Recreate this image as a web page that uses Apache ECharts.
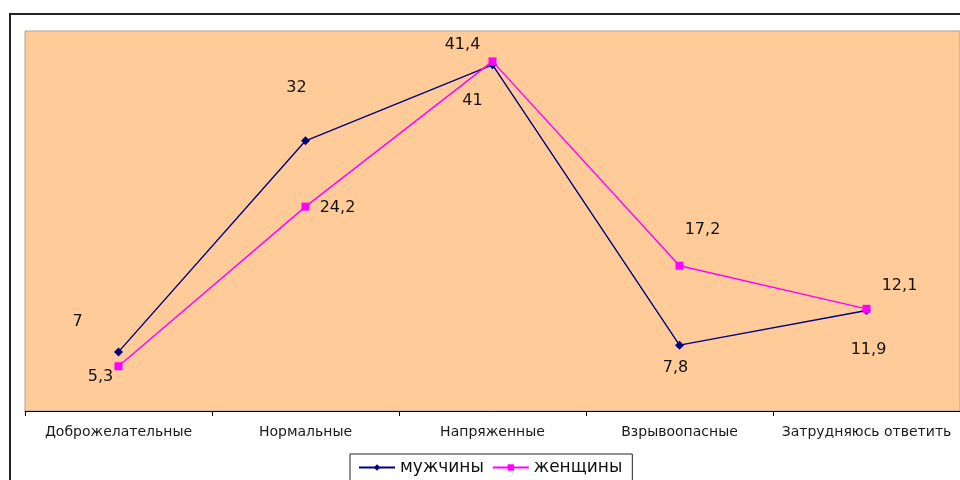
<!DOCTYPE html>
<html>
<head>
<meta charset="utf-8">
<script src="https://cdn.jsdelivr.net/npm/echarts@6.0.0/dist/echarts.min.js"></script>
<style>
  html, body { margin: 0; padding: 0; background: #fff; }
  #chart { width: 960px; height: 480px; }
</style>
</head>
<body>
<div id="chart"></div>
<script>
// data
const categories = ['Доброжелательные', 'Нормальные', 'Напряженные', 'Взрывоопасные', 'Затрудняюсь ответить'];
const menValues = [7, 32, 41, 7.8, 11.9];
const womenValues = [5.3, 24.2, 41.4, 17.2, 12.1];

// label offsets (layout only), px from the marker
const menLabelOffset = [[-41, -30], [-9, -53], [-20, 36], [-4, 23], [2, 39]];
const womenLabelOffset = [[-18, 11], [32, 1], [-30, -17], [23, -36], [33, -23]];

const font = '"DejaVu Sans", "Liberation Sans", Arial, sans-serif';

const fmt = (v) => String(v).replace('.', ',');

const withLabels = (values, offsets) =>
  values.map((v, i) => ({
    value: v,
    label: { offset: offsets[i] },
  }));

const chart = echarts.init(document.getElementById('chart'));

const option = {
  animation: false,
  backgroundColor: '#fff',
  graphic: [
    {
      type: 'rect',
      shape: { x: 10, y: 14, width: 1000, height: 1000 },
      style: { fill: 'none', stroke: '#222', lineWidth: 2 },
      z: 0,
    },
  ],
  grid: {
    left: 25,
    top: 31,
    right: 0,
    bottom: 69,
    show: true,
    backgroundColor: '#FFCC99',
    borderColor: '#B4A08A',
    borderWidth: 1,
  },
  xAxis: {
    type: 'category',
    data: categories,
    boundaryGap: true,
    axisLine: { lineStyle: { color: '#000', width: 1 } },
    axisTick: { show: true, length: 5, lineStyle: { color: '#000' } },
    axisLabel: {
      color: '#1a1a1a',
      fontFamily: font,
      fontSize: 14,
      margin: 14,
      interval: 0,
    },
  },
  yAxis: {
    type: 'value',
    min: 0,
    max: 45,
    show: false,
    splitLine: { show: false },
  },
  legend: {
    left: 350,
    top: 454,
    padding: [5, 10, 12, 8],
    borderColor: '#222',
    borderWidth: 1,
    itemWidth: 36,
    itemHeight: 8,
    itemGap: 8,
    textStyle: { fontFamily: font, fontSize: 17, color: '#111' },
    data: ['мужчины', 'женщины'],
  },
  series: [
    {
      name: 'мужчины',
      type: 'line',
      data: withLabels(menValues, menLabelOffset),
      color: '#000080',
      symbol: 'diamond',
      symbolSize: 9,
      lineStyle: { width: 1.4, color: '#000080' },
      itemStyle: { color: '#000080' },
      label: {
        show: true,
        position: 'inside',
        formatter: (p) => fmt(p.value),
        fontFamily: font,
        fontSize: 16,
        color: '#111',
      },
      z: 3,
    },
    {
      name: 'женщины',
      type: 'line',
      data: withLabels(womenValues, womenLabelOffset),
      color: '#FF00FF',
      symbol: 'rect',
      symbolSize: 8,
      lineStyle: { width: 1.4, color: '#FF00FF' },
      itemStyle: { color: '#FF00FF' },
      label: {
        show: true,
        position: 'inside',
        formatter: (p) => fmt(p.value),
        fontFamily: font,
        fontSize: 16,
        color: '#111',
      },
      z: 4,
    },
  ],
};

chart.setOption(option);
</script>
</body>
</html>
